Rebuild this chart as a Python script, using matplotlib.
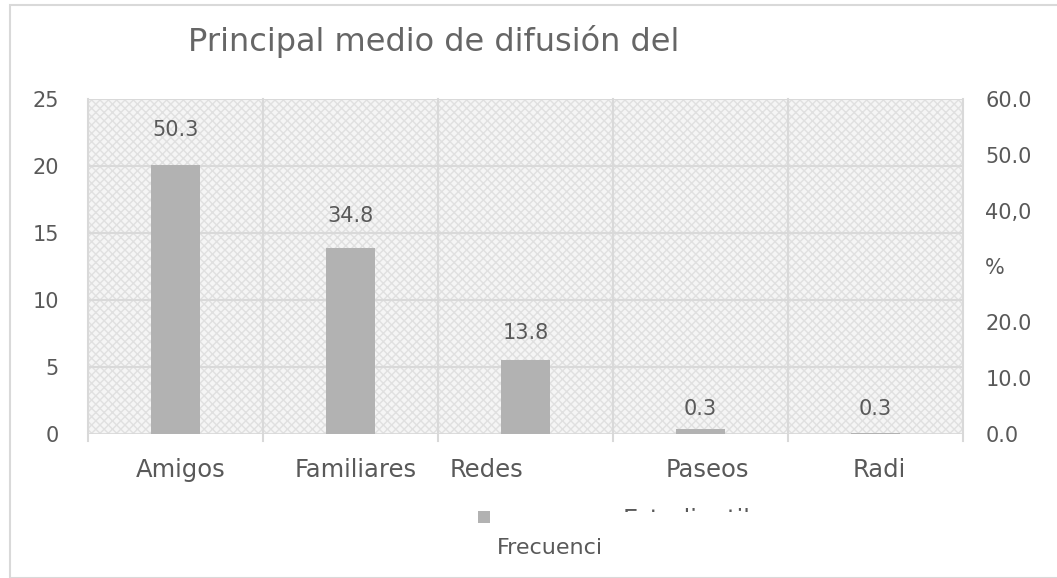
import numpy as np
import matplotlib.pyplot as plt
from matplotlib.patches import Rectangle
from matplotlib.transforms import Bbox

# datos
categorias = ['Amigos', 'Familiares', 'Redes', 'Paseos', 'Radi']
frecuencia = [20.1, 13.9, 5.5, 0.4, 0.05]
porcentaje = [50.3, 34.8, 13.8, 0.3, 0.3]
etiquetas_pct = ['50.3', '34.8', '13.8', '0.3', '0.3']
ticks_izq = [0, 5, 10, 15, 20, 25]
ticks_der = [0, 10, 20, 30, 40, 50, 60]
ticks_der_txt = ['0.0', '10.0', '20.0', '%', '40,0', '50.0', '60.0']

gris_txt = '#595959'
gris_linea = '#d9d9d9'

fig = plt.figure(figsize=(10.57, 5.78), dpi=100, facecolor='white')
# borde del grafico
fig.patches.append(Rectangle((10 / 1057, 0), 1.0, 1 - 5 / 578, transform=fig.transFigure,
                             fill=False, edgecolor='#d9d9d9', linewidth=1.5))

ax = fig.add_axes([88 / 1057, 1 - 434 / 578, 875 / 1057, 335 / 578])
x = np.arange(len(categorias))

# fondo con textura
ax.set_facecolor('#f5f5f5')
ax.add_patch(Rectangle((-0.5, 0), 5, 25, facecolor='none', edgecolor='#e0e0e0',
                       hatch='xxxx', linewidth=0, zorder=0))

ax.bar(x, frecuencia, width=0.28, color='#b2b2b2', zorder=3)
ax.set_xlim(-0.5, len(categorias) - 0.5)
ax.set_ylim(0, 25)
ax.set_yticks(ticks_izq)
ax.set_yticklabels([str(t) for t in ticks_izq], color=gris_txt, fontsize=15)
ax.tick_params(axis='y', length=0, pad=21)

# rejilla
for yv in ticks_izq[1:]:
    ax.axhline(yv, color=gris_linea, linewidth=1.5, zorder=1)
for xv in np.arange(-0.5, len(categorias), 1.0):
    ax.plot([xv, xv], [-0.5, 25], color=gris_linea, linewidth=1.5, zorder=1, clip_on=False)
ax.axhline(0, color=gris_linea, linewidth=2, zorder=2)
for s in ax.spines.values():
    s.set_visible(False)

ax.set_xticks([])
# etiquetas de categorias
desp = [0.03, 0.03, -0.22, 0.04, 0.02]
for i, c in enumerate(categorias):
    ax.text(x[i] + desp[i], -2.7, c, ha='center', va='center', fontsize=17.5,
            color=gris_txt)
t = fig.text(700 / 1057, 1 - 520 / 578, 'Estudiantiles', ha='center', va='center',
             fontsize=17.5, color=gris_txt)
t.set_clip_on(True)
t.set_clip_box(Bbox.from_extents(0, 578 - 512, 1057, 578))

# eje secundario con porcentajes
ax2 = ax.twinx()
ax2.set_ylim(0, 60)
ax2.set_yticks(ticks_der)
ax2.set_yticklabels(ticks_der_txt, color=gris_txt, fontsize=15)
ax2.tick_params(axis='y', length=0, pad=16)
for s in ax2.spines.values():
    s.set_visible(False)
for i, p in enumerate(porcentaje):
    ax2.annotate(etiquetas_pct[i], (x[i], p), xytext=(0, 17), textcoords='offset points',
                 ha='center', va='center', fontsize=15, color=gris_txt)

fig.text(434 / 1057, 1 - 42 / 578, 'Principal medio de difusión del', ha='center', va='center',
         fontsize=23, color='#666666')

# leyenda
fig.patches.append(Rectangle((478 / 1057, 1 - 523 / 578), 12 / 1057, 12 / 578,
                             transform=fig.transFigure, facecolor='#b2b2b2', edgecolor='none'))
fig.text(497 / 1057, 1 - 548 / 578, 'Frecuenci', ha='left', va='center', fontsize=16,
         color=gris_txt)

fig.savefig('out.png', dpi=100, facecolor='white')
